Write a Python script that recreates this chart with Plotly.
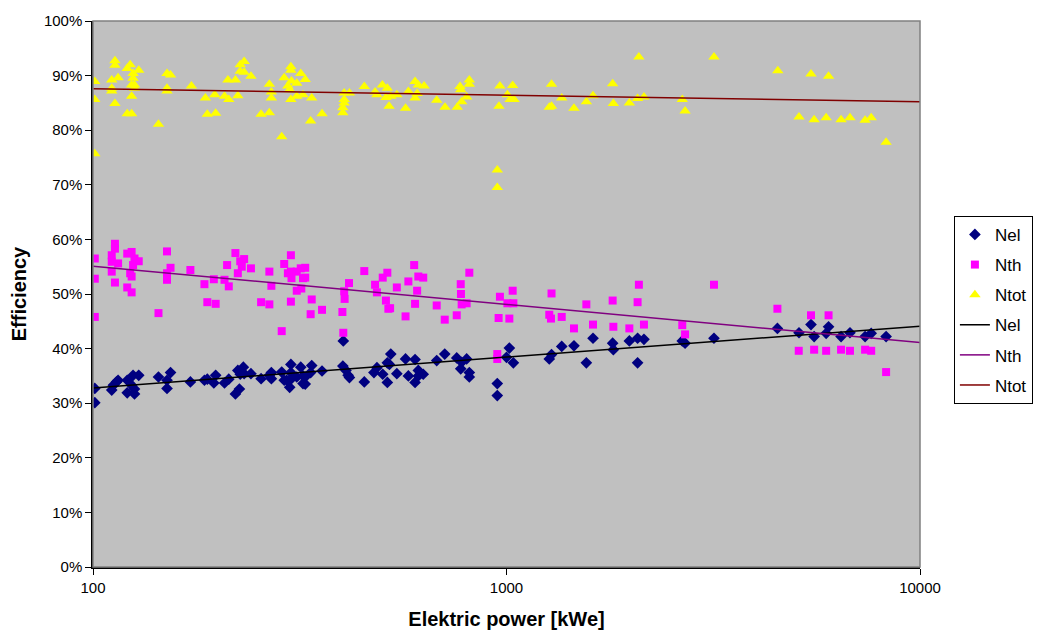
import numpy as np
import plotly.graph_objects as go

# ---- data (kWe, efficiency %) ----
nel_x = [101, 101, 111, 112, 114, 115, 121, 125, 129, 124, 126, 121, 126, 144, 151, 154, 151,
         172, 186, 189, 198, 196, 208, 213, 224, 231, 227, 232, 221, 226, 241, 255, 267, 270, 270,
         286, 290, 301, 301, 302, 294, 299, 311, 318, 322, 322, 338, 326, 336, 326, 358,
         403, 402, 409, 414, 417, 453, 486, 478, 502, 515, 525, 521, 515, 543, 570, 579, 601,
         612, 612, 629, 601, 678, 709, 758, 779, 801, 775, 813, 813, 950, 950, 1000, 1016, 1039,
         1269, 1285, 1360, 1456, 1560, 1619, 1806, 1813, 1982, 2075, 2150, 2075, 2661, 2703,
         3175, 4520, 5098, 5450, 5546, 5930, 6010, 6443, 6771, 7366, 7620, 8280]
nel_y = [32.7, 30.1, 32.4, 33.3, 33.9, 34.2, 34.2, 35.1, 35.1, 33.3, 32.6, 31.9, 31.7, 34.8, 34.2,
         35.6, 32.7, 33.9, 34.2, 34.4, 35.1, 33.7, 33.7, 34.4, 36.0, 36.6, 35.3, 35.4, 31.7, 32.6,
         35.4, 34.5, 35.1, 35.6, 34.5, 35.7, 34.2, 37.1, 35.6, 34.5, 34.2, 32.9, 34.8, 36.6, 35.0,
         33.6, 36.9, 34.8, 35.6, 33.5, 35.9, 41.4, 36.8, 36.0, 35.1, 34.7, 33.9, 36.5, 35.6, 35.3,
         37.4, 39.0, 37.1, 33.8, 35.4, 38.1, 35.0, 38.0, 36.0, 35.0, 35.3, 33.8, 37.8, 39.0, 38.3,
         37.5, 38.1, 36.3, 35.6, 34.8, 33.6, 31.4, 38.4, 40.1, 37.4, 38.1, 38.9, 40.4, 40.5, 37.4,
         41.9, 41.0, 39.8, 41.4, 41.9, 41.7, 37.4, 41.4, 41.0, 41.9, 43.7, 42.9, 44.4, 42.2, 42.8,
         44.0, 42.2, 42.9, 42.2, 42.8, 42.2]

nth_x = [101, 101, 101, 113, 113, 111, 111, 111, 115, 113, 121, 124, 121, 124, 126, 129, 125,
         123, 124, 151, 154, 151, 151, 144, 172, 186, 189, 198, 196, 211, 208, 213, 221, 227,
         232, 229, 224, 241, 267, 270, 255, 267, 286, 290, 301, 301, 302, 296, 311, 318, 322,
         311, 319, 301, 326, 326, 338, 336, 358, 416, 405, 406, 401, 403, 453, 502, 515, 481,
         486, 511, 523, 518, 543, 570, 579, 598, 612, 629, 608, 601, 678, 709, 758, 775, 776,
         779, 801, 813, 950, 950, 964, 957, 1035, 1005, 1039, 1016, 1285, 1269, 1281, 1360,
         1456, 1560, 1619, 1806, 1813, 1982, 2075, 2090, 2150, 2661, 2703, 3175, 4520, 5450,
         6010, 5090, 5546, 5930, 6443, 6771, 7366, 7620, 8280]
nth_y = [56.5, 52.8, 45.8, 59.2, 58.3, 57.1, 55.9, 54.1, 55.6, 52.1, 57.4, 57.7, 51.2, 50.3, 56.5,
         56.0, 55.3, 53.8, 53.2, 57.8, 54.8, 53.8, 52.6, 46.5, 54.4, 51.8, 48.5, 48.2, 52.7, 55.3,
         52.6, 51.4, 57.5, 56.0, 56.4, 55.0, 53.8, 54.7, 54.1, 51.5, 48.5, 48.1, 43.2, 55.5, 57.1,
         54.1, 52.9, 53.8, 54.1, 54.7, 52.9, 50.6, 51.0, 48.6, 54.8, 53.0, 49.0, 46.3, 47.1, 52.0,
         50.5, 49.1, 46.7, 42.9, 54.2, 53.0, 53.9, 51.7, 50.3, 48.8, 47.4, 47.3, 51.2, 45.9, 52.3,
         55.3, 53.2, 53.0, 50.6, 48.2, 47.9, 45.3, 46.1, 51.8, 50.0, 48.1, 48.3, 53.9, 39.0, 38.1,
         49.5, 45.6, 50.6, 48.3, 48.3, 45.5, 50.1, 46.2, 45.5, 45.8, 43.7, 48.1, 44.4, 48.8, 44.0,
         43.7, 48.5, 51.7, 44.4, 44.3, 42.6, 51.7, 47.3, 46.1, 46.1, 39.6, 39.8, 39.6, 39.8, 39.6,
         39.8, 39.6, 35.7]

ntot_x = [101, 101, 101, 113, 113, 111, 111, 111, 115, 113, 121, 123, 129, 125, 125, 124, 126,
          126, 124, 121, 124, 144, 151, 154, 151, 151, 173, 187, 189, 197, 198, 212, 221, 208,
          213, 224, 227, 232, 227, 232, 241, 255, 267, 267, 270, 270, 286, 290, 301, 301, 302,
          296, 299, 311, 318, 301, 311, 322, 326, 338, 336, 358, 405, 417, 405, 405, 402, 402,
          453, 501, 515, 481, 486, 511, 543, 525, 520, 570, 579, 601, 612, 632, 608, 601, 678,
          710, 760, 779, 772, 775, 813, 813, 801, 964, 959, 1035, 1005, 1020, 1043, 950, 950,
          1285, 1360, 1269, 1285, 1456, 1560, 1619, 1806, 1813, 1982, 2075, 2150, 2090, 2661,
          2703, 3175, 4530, 5450, 6010, 5098, 5546, 5930, 6443, 6771, 7366, 7620, 8280]
ntot_y = [88.9, 85.6, 75.7, 92.7, 91.9, 89.2, 87.7, 87.2, 89.6, 84.9, 91.3, 92.0, 91.0, 90.4,
          89.5, 88.3, 88.3, 87.7, 86.2, 83.0, 83.0, 81.1, 90.4, 90.1, 87.7, 87.2, 88.1, 85.9,
          82.9, 86.5, 83.1, 89.2, 89.2, 86.2, 85.6, 86.3, 92.0, 92.6, 90.8, 90.6, 89.9, 82.9,
          83.2, 88.4, 87.0, 85.9, 78.8, 89.6, 91.6, 91.0, 89.0, 88.1, 87.4, 88.6, 90.4, 85.6,
          86.2, 86.5, 89.3, 85.9, 81.7, 83.0, 86.8, 86.8, 85.6, 85.0, 84.1, 83.2, 88.0, 88.3,
          87.7, 87.0, 86.5, 86.0, 86.5, 86.2, 84.4, 84.0, 87.1, 88.9, 88.3, 88.1, 86.7, 85.9,
          85.5, 84.2, 84.2, 85.2, 88.0, 87.4, 89.2, 88.4, 86.1, 88.1, 84.4, 88.2, 86.5, 85.6,
          85.6, 72.7, 69.5, 88.4, 85.9, 84.2, 84.4, 84.0, 85.2, 86.3, 88.5, 84.9, 85.0, 85.8,
          86.1, 93.4, 85.6, 83.5, 93.4, 90.9, 90.3, 89.9, 82.4, 81.9, 82.3, 81.9, 82.3, 81.8,
          82.3, 77.8]

# logarithmic trend lines, values read at the axis ends
trend_x = [100, 10000]
nel_trend = [32.8, 44.1]
nth_trend = [55.1, 41.1]
ntot_trend = [87.6, 85.2]

x_ticks = [100, 1000, 10000]
x_tick_text = ["100", "1000", "10000"]
y_ticks = list(range(0, 101, 10))
y_tick_text = [f"{v}%" for v in y_ticks]

FONT = "Liberation Sans, Arial, sans-serif"

fig = go.Figure()

fig.add_trace(go.Scatter(x=nel_x, y=nel_y, mode="markers", name="Nel", legendgroup="a",
                         marker=dict(symbol="diamond", size=9, color="#000080", line=dict(width=0))))
fig.add_trace(go.Scatter(x=nth_x, y=nth_y, mode="markers", name="Nth", legendgroup="b",
                         marker=dict(symbol="square", size=8, color="#FF00FF", line=dict(width=0))))
fig.add_trace(go.Scatter(x=ntot_x, y=ntot_y, mode="markers", name="Ntot", legendgroup="c",
                         marker=dict(symbol="triangle-up", size=10, color="#FFFF00", line=dict(width=0))))

for nm, ys, col, g in [("Nel", nel_trend, "#000000", "d"),
                       ("Nth", nth_trend, "#800080", "e"),
                       ("Ntot", ntot_trend, "#800000", "f")]:
    fig.add_trace(go.Scatter(x=trend_x, y=ys, mode="lines", name=nm, legendgroup=g,
                             line=dict(color=col, width=1.5)))

fig.update_layout(
    width=1063, height=639,
    margin=dict(l=93, r=143, t=15, b=69),
    paper_bgcolor="white",
    plot_bgcolor="#C0C0C0",
    font=dict(family=FONT, size=15, color="black"),
    showlegend=True,
    legend=dict(x=1.041, y=0.643, xanchor="left", yanchor="top",
                bordercolor="black", borderwidth=1, bgcolor="white",
                font=dict(size=17, family=FONT), tracegroupgap=5,
                entrywidth=52, entrywidthmode="pixels"),
    shapes=[dict(type="rect", xref="paper", yref="paper", x0=0, y0=0, x1=1, y1=1,
                 line=dict(color="#808080", width=1.5), layer="above")],
)

fig.update_xaxes(type="log", range=[2, 4], tickvals=x_ticks, ticktext=x_tick_text,
                 showgrid=False, zeroline=False, showline=True, linecolor="black", linewidth=1.5,
                 ticks="outside", ticklen=6, tickcolor="black",
                 tickfont=dict(size=15, family=FONT),
                 title=dict(text="<b>Elektric power [kWe]</b>", font=dict(size=20, family=FONT), standoff=17))
fig.update_yaxes(range=[0, 100], tickvals=y_ticks, ticktext=y_tick_text,
                 showgrid=False, zeroline=False, showline=True, linecolor="black", linewidth=1.5,
                 ticks="outside", ticklen=6, tickcolor="black",
                 tickfont=dict(size=15, family=FONT),
                 title=dict(text="<b>Efficiency</b>", font=dict(size=20, family=FONT), standoff=12))

fig.write_html("out.html")
